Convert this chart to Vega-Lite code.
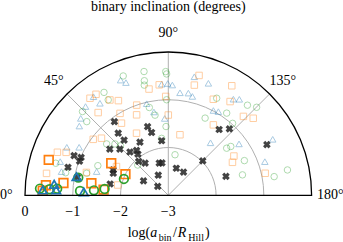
{
  "$schema": "https://vega.github.io/schema/vega-lite/v6.json",
  "width": 343,
  "height": 242,
  "autosize": "none",
  "padding": 0,
  "background": "white",
  "config": {"view": {"stroke": null}},
  "datasets": {
    "rings": [{"r": 1}, {"r": 2}, {"r": 3}],
    "spokes": [{"deg": 45}, {"deg": 90}, {"deg": 135}],
    "angles": [{"deg": 0, "lab": "0°"}, {"deg": 45, "lab": "45°"}, {"deg": 90, "lab": "90°"}, {"deg": 135, "lab": "135°"}, {"deg": 180, "lab": "180°"}],
    "ticks": [{"tick": 0, "lab": "0"}, {"tick": -1, "lab": "−1"}, {"tick": -2, "lab": "−2"}, {"tick": -3, "lab": "−3"}],
    "pts": [
      {"s": "blue", "hl": 0, "inc": 67.5, "la": -0.39},
      {"s": "blue", "hl": 0, "inc": 69.4, "la": -0.48},
      {"s": "blue", "hl": 0, "inc": 86.6, "la": -0.67},
      {"s": "blue", "hl": 0, "inc": 89.7, "la": -0.66},
      {"s": "blue", "hl": 0, "inc": 92.1, "la": -0.69},
      {"s": "blue", "hl": 0, "inc": 102.4, "la": -0.46},
      {"s": "blue", "hl": 0, "inc": 109.7, "la": -0.51},
      {"s": "blue", "hl": 0, "inc": 96.5, "la": -0.84},
      {"s": "blue", "hl": 0, "inc": 101.1, "la": -0.82},
      {"s": "blue", "hl": 0, "inc": 103.7, "la": -0.87},
      {"s": "blue", "hl": 0, "inc": 118.0, "la": -0.99},
      {"s": "blue", "hl": 0, "inc": 120.9, "la": -0.96},
      {"s": "blue", "hl": 0, "inc": 124.1, "la": -0.57},
      {"s": "blue", "hl": 0, "inc": 126.5, "la": -0.50},
      {"s": "blue", "hl": 0, "inc": 52.8, "la": -0.41},
      {"s": "blue", "hl": 0, "inc": 53.4, "la": -0.60},
      {"s": "blue", "hl": 0, "inc": 47.0, "la": -0.46},
      {"s": "blue", "hl": 0, "inc": 41.3, "la": -0.56},
      {"s": "blue", "hl": 0, "inc": 37.9, "la": -0.64},
      {"s": "blue", "hl": 0, "inc": 25.3, "la": -0.65},
      {"s": "blue", "hl": 0, "inc": 28.3, "la": -0.88},
      {"s": "blue", "hl": 0, "inc": 12.5, "la": -0.71},
      {"s": "blue", "hl": 0, "inc": 18.3, "la": -1.42},
      {"s": "blue", "hl": 0, "inc": 87.3, "la": -1.39},
      {"s": "blue", "hl": 0, "inc": 128.8, "la": -1.59},
      {"s": "blue", "hl": 0, "inc": 144.0, "la": -1.17},
      {"s": "blue", "hl": 0, "inc": 151.8, "la": -0.52},
      {"s": "blue", "hl": 0, "inc": 160.8, "la": -0.86},
      {"s": "blue", "hl": 0, "inc": 76.7, "la": -1.03},
      {"s": "blue", "hl": 0, "inc": 80.2, "la": -1.23},
      {"s": "blue", "hl": 0, "inc": 17.3, "la": -0.63},
      {"s": "green", "hl": 0, "inc": 78.9, "la": -0.36},
      {"s": "green", "hl": 0, "inc": 88.8, "la": -0.41},
      {"s": "green", "hl": 0, "inc": 69.3, "la": -0.33},
      {"s": "green", "hl": 0, "inc": 78.2, "la": -0.55},
      {"s": "green", "hl": 0, "inc": 77.7, "la": -0.64},
      {"s": "green", "hl": 0, "inc": 89.2, "la": -0.46},
      {"s": "green", "hl": 0, "inc": 58.0, "la": -0.46},
      {"s": "green", "hl": 0, "inc": 57.8, "la": -0.64},
      {"s": "green", "hl": 0, "inc": 44.3, "la": -0.49},
      {"s": "green", "hl": 0, "inc": 42.1, "la": -0.70},
      {"s": "green", "hl": 0, "inc": 77.8, "la": -1.12},
      {"s": "green", "hl": 0, "inc": 80.6, "la": -1.30},
      {"s": "green", "hl": 0, "inc": 88.1, "la": -1.56},
      {"s": "green", "hl": 0, "inc": 89.0, "la": -1.00},
      {"s": "green", "hl": 0, "inc": 115.5, "la": -1.21},
      {"s": "green", "hl": 0, "inc": 116.5, "la": -0.73},
      {"s": "green", "hl": 0, "inc": 125.4, "la": -0.89},
      {"s": "green", "hl": 0, "inc": 131.8, "la": -0.98},
      {"s": "green", "hl": 0, "inc": 131.3, "la": -0.49},
      {"s": "green", "hl": 0, "inc": 135.1, "la": -0.39},
      {"s": "green", "hl": 0, "inc": 141.1, "la": -1.43},
      {"s": "green", "hl": 0, "inc": 142.0, "la": -1.34},
      {"s": "green", "hl": 0, "inc": 155.5, "la": -1.25},
      {"s": "green", "hl": 0, "inc": 164.6, "la": -1.39},
      {"s": "green", "hl": 0, "inc": 170.0, "la": -0.75},
      {"s": "green", "hl": 0, "inc": 168.0, "la": -0.45},
      {"s": "green", "hl": 0, "inc": 39.8, "la": -1.32},
      {"s": "green", "hl": 0, "inc": 15.9, "la": -0.55},
      {"s": "green", "hl": 0, "inc": 22.8, "la": -1.40},
      {"s": "green", "hl": 0, "inc": 83.3, "la": -1.80},
      {"s": "green", "hl": 0, "inc": 99.4, "la": -2.14},
      {"s": "green", "hl": 0, "inc": 44.7, "la": -2.10},
      {"s": "green", "hl": 0, "inc": 43.9, "la": -1.45},
      {"s": "green", "hl": 0, "inc": 15.1, "la": -1.23},
      {"s": "green", "hl": 0, "inc": 12.4, "la": -0.80},
      {"s": "green", "hl": 0, "inc": 46.0, "la": -1.56},
      {"s": "orange", "hl": 0, "inc": 51.1, "la": -0.39},
      {"s": "orange", "hl": 0, "inc": 54.4, "la": -0.40},
      {"s": "orange", "hl": 0, "inc": 58.5, "la": -0.66},
      {"s": "orange", "hl": 0, "inc": 49.7, "la": -0.73},
      {"s": "orange", "hl": 0, "inc": 62.2, "la": -0.76},
      {"s": "orange", "hl": 0, "inc": 59.5, "la": -1.01},
      {"s": "orange", "hl": 0, "inc": 70.7, "la": -1.00},
      {"s": "orange", "hl": 0, "inc": 68.5, "la": -1.19},
      {"s": "orange", "hl": 0, "inc": 79.7, "la": -0.74},
      {"s": "orange", "hl": 0, "inc": 85.3, "la": -0.68},
      {"s": "orange", "hl": 0, "inc": 104.4, "la": -0.41},
      {"s": "orange", "hl": 0, "inc": 103.3, "la": -0.63},
      {"s": "orange", "hl": 0, "inc": 90.0, "la": -1.32},
      {"s": "orange", "hl": 0, "inc": 88.5, "la": -0.93},
      {"s": "orange", "hl": 0, "inc": 115.1, "la": -0.78},
      {"s": "orange", "hl": 0, "inc": 123.4, "la": -0.65},
      {"s": "orange", "hl": 0, "inc": 120.1, "la": -0.35},
      {"s": "orange", "hl": 0, "inc": 133.6, "la": -0.72},
      {"s": "orange", "hl": 0, "inc": 137.8, "la": -0.60},
      {"s": "orange", "hl": 0, "inc": 122.6, "la": -1.25},
      {"s": "orange", "hl": 0, "inc": 149.1, "la": -1.40},
      {"s": "orange", "hl": 0, "inc": 152.8, "la": -1.49},
      {"s": "orange", "hl": 0, "inc": 167.2, "la": -0.92},
      {"s": "orange", "hl": 0, "inc": 100.9, "la": -1.71},
      {"s": "orange", "hl": 0, "inc": 62.9, "la": -1.54},
      {"s": "orange", "hl": 0, "inc": 57.0, "la": -1.20},
      {"s": "orange", "hl": 0, "inc": 40.5, "la": -1.16},
      {"s": "orange", "hl": 0, "inc": 21.2, "la": -0.51},
      {"s": "orange", "hl": 0, "inc": 22.8, "la": -0.68},
      {"s": "orange", "hl": 0, "inc": 29.0, "la": -1.76},
      {"s": "orange", "hl": 0, "inc": 11.5, "la": -1.92},
      {"s": "orange", "hl": 0, "inc": 15.6, "la": -1.22},
      {"s": "orange", "hl": 0, "inc": 10.2, "la": -0.41},
      {"s": "orange", "hl": 0, "inc": 36.7, "la": -1.04},
      {"s": "x", "hl": 0, "inc": 53.8, "la": -1.09},
      {"s": "x", "hl": 0, "inc": 51.1, "la": -1.33},
      {"s": "x", "hl": 0, "inc": 51.3, "la": -1.52},
      {"s": "x", "hl": 0, "inc": 73.2, "la": -1.50},
      {"s": "x", "hl": 0, "inc": 75.1, "la": -1.64},
      {"s": "x", "hl": 0, "inc": 83.0, "la": -1.85},
      {"s": "x", "hl": 0, "inc": 61.9, "la": -1.74},
      {"s": "x", "hl": 0, "inc": 54.7, "la": -1.85},
      {"s": "x", "hl": 0, "inc": 48.5, "la": -1.79},
      {"s": "x", "hl": 0, "inc": 43.6, "la": -1.60},
      {"s": "x", "hl": 0, "inc": 38.3, "la": -1.44},
      {"s": "x", "hl": 0, "inc": 53.5, "la": -1.93},
      {"s": "x", "hl": 0, "inc": 48.9, "la": -2.06},
      {"s": "x", "hl": 0, "inc": 54.2, "la": -2.17},
      {"s": "x", "hl": 0, "inc": 74.3, "la": -2.30},
      {"s": "x", "hl": 0, "inc": 78.9, "la": -2.31},
      {"s": "x", "hl": 0, "inc": 63.4, "la": -2.53},
      {"s": "x", "hl": 0, "inc": 30.2, "la": -2.40},
      {"s": "x", "hl": 0, "inc": 40.2, "la": -2.71},
      {"s": "x", "hl": 0, "inc": 24.7, "la": -1.73},
      {"s": "x", "hl": 0, "inc": 21.8, "la": -1.76},
      {"s": "x", "hl": 0, "inc": 11.0, "la": -1.76},
      {"s": "x", "hl": 0, "inc": 106.5, "la": -2.41},
      {"s": "x", "hl": 0, "inc": 123.3, "la": -2.42},
      {"s": "x", "hl": 0, "inc": 135.0, "la": -1.98},
      {"s": "x", "hl": 0, "inc": 127.7, "la": -1.26},
      {"s": "x", "hl": 0, "inc": 132.6, "la": -1.11},
      {"s": "x", "hl": 0, "inc": 161.8, "la": -1.73},
      {"s": "x", "hl": 0, "inc": 152.8, "la": -0.68},
      {"s": "x", "hl": 0, "inc": 22.8, "la": -0.86},
      {"s": "x", "hl": 0, "inc": 23.5, "la": -1.01},
      {"s": "x", "hl": 0, "inc": 21.0, "la": -1.01},
      {"s": "x", "hl": 0, "inc": 15.6, "la": -0.82},
      {"s": "x", "hl": 0, "inc": 11.2, "la": -1.06},
      {"s": "orange", "hl": 1, "inc": 16.5, "la": -0.39},
      {"s": "orange", "hl": 1, "inc": 29.3, "la": -1.63},
      {"s": "orange", "hl": 1, "inc": 26.2, "la": -2.00},
      {"s": "orange", "hl": 1, "inc": 6.7, "la": -0.79},
      {"s": "orange", "hl": 1, "inc": 8.9, "la": -1.37},
      {"s": "orange", "hl": 1, "inc": 5.0, "la": -1.64},
      {"s": "orange", "hl": 1, "inc": 4.7, "la": -0.43},
      {"s": "orange", "hl": 1, "inc": 2.1, "la": -0.37},
      {"s": "green", "hl": 1, "inc": 3.0, "la": -0.31},
      {"s": "green", "hl": 1, "inc": 2.9, "la": -0.51},
      {"s": "green", "hl": 1, "inc": 3.4, "la": -0.67},
      {"s": "green", "hl": 1, "inc": 11.1, "la": -1.08},
      {"s": "green", "hl": 1, "inc": 2.8, "la": -1.15},
      {"s": "green", "hl": 1, "inc": 3.8, "la": -1.44},
      {"s": "green", "hl": 1, "inc": 5.7, "la": -1.66},
      {"s": "green", "hl": 1, "inc": 20.2, "la": -2.01},
      {"s": "blue", "hl": 1, "inc": 5.5, "la": -0.60},
      {"s": "blue", "hl": 1, "inc": 2.4, "la": -0.37},
      {"s": "blue", "hl": 1, "inc": 2.7, "la": -0.65},
      {"s": "blue", "hl": 1, "inc": 11.5, "la": -1.04},
      {"s": "blue", "hl": 1, "inc": 2.3, "la": -1.23}
    ]
  },
  "layer": [
    {
      "data": {"name": "rings"},
      "transform": [{"filter": "datum.r < 3"}, {"calculate": "0", "as": "cx"}],
      "mark": {"type": "point", "shape": "M-1,0A1,1,0,0,1,1,0", "filled": false, "color": "#b0b0b0", "opacity": 1, "strokeWidth": 1},
      "encoding": {
        "x": {"field": "cx", "type": "quantitative", "scale": {"domain": [-3.523, 3.657], "nice": false, "zero": false}, "axis": null},
        "y": {"field": "cx", "type": "quantitative", "scale": {"domain": [-0.978, 4.088], "nice": false, "zero": false}, "axis": null},
        "size": {"field": "r", "type": "quantitative", "scale": {"type": "pow", "exponent": 2, "domain": [0, 3], "range": [0, 82140]}, "legend": null}
      }
    },
    {
      "data": {"name": "spokes"},
      "transform": [
        {"calculate": "0", "as": "x0"},
        {"calculate": "-3 * cos(datum.deg * PI / 180)", "as": "xe"},
        {"calculate": "3 * sin(datum.deg * PI / 180)", "as": "ye"}
      ],
      "mark": {"type": "rule", "color": "#b0b0b0", "strokeWidth": 1},
      "encoding": {
        "x": {"field": "x0", "type": "quantitative", "scale": {"domain": [-3.523, 3.657], "nice": false, "zero": false}, "axis": null},
        "y": {"field": "x0", "type": "quantitative", "scale": {"domain": [-0.978, 4.088], "nice": false, "zero": false}, "axis": null},
        "x2": {"field": "xe"},
        "y2": {"field": "ye"}
      }
    },
    {
      "data": {"name": "pts"},
      "transform": [
        {"filter": "datum.hl == 0 && datum.s != 'x'"},
        {"calculate": "-(datum.la + 3) * cos(datum.inc * PI / 180)", "as": "px"},
        {"calculate": "(datum.la + 3) * sin(datum.inc * PI / 180)", "as": "py"}
      ],
      "mark": {"type": "point", "filled": false, "opacity": 0.38, "strokeWidth": 1, "size": 42},
      "encoding": {
        "x": {"field": "px", "type": "quantitative", "scale": {"domain": [-3.523, 3.657], "nice": false, "zero": false}, "axis": null},
        "y": {"field": "py", "type": "quantitative", "scale": {"domain": [-0.978, 4.088], "nice": false, "zero": false}, "axis": null},
        "color": {"field": "s", "type": "nominal", "scale": {"domain": ["orange", "green", "blue"], "range": ["#ff7f0e", "#2ca02c", "#1f77b4"]}, "legend": null},
        "shape": {"field": "s", "type": "nominal", "scale": {"domain": ["orange", "green", "blue"], "range": ["square", "circle", "triangle-up"]}, "legend": null}
      }
    },
    {
      "data": {"name": "pts"},
      "transform": [
        {"filter": "datum.s == 'x'"},
        {"calculate": "-(datum.la + 3) * cos(datum.inc * PI / 180)", "as": "px"},
        {"calculate": "(datum.la + 3) * sin(datum.inc * PI / 180)", "as": "py"}
      ],
      "mark": {"type": "point", "shape": "cross", "angle": 45, "filled": true, "color": "#222222", "opacity": 0.85, "size": 60},
      "encoding": {
        "x": {"field": "px", "type": "quantitative", "scale": {"domain": [-3.523, 3.657], "nice": false, "zero": false}, "axis": null},
        "y": {"field": "py", "type": "quantitative", "scale": {"domain": [-0.978, 4.088], "nice": false, "zero": false}, "axis": null}
      }
    },
    {
      "data": {"name": "pts"},
      "transform": [
        {"filter": "datum.hl == 1"},
        {"calculate": "-(datum.la + 3) * cos(datum.inc * PI / 180)", "as": "px"},
        {"calculate": "(datum.la + 3) * sin(datum.inc * PI / 180)", "as": "py"}
      ],
      "mark": {"type": "point", "filled": false, "opacity": 1, "strokeWidth": 1.7, "size": 75},
      "encoding": {
        "x": {"field": "px", "type": "quantitative", "scale": {"domain": [-3.523, 3.657], "nice": false, "zero": false}, "axis": null},
        "y": {"field": "py", "type": "quantitative", "scale": {"domain": [-0.978, 4.088], "nice": false, "zero": false}, "axis": null},
        "color": {"field": "s", "type": "nominal", "scale": {"domain": ["orange", "green", "blue"], "range": ["#ff7f0e", "#2ca02c", "#1f77b4"]}, "legend": null},
        "shape": {"field": "s", "type": "nominal", "scale": {"domain": ["orange", "green", "blue"], "range": ["square", "circle", "triangle-up"]}, "legend": null}
      }
    },
    {
      "data": {"name": "rings"},
      "transform": [{"filter": "datum.r == 3"}, {"calculate": "0", "as": "cx"}],
      "mark": {"type": "point", "shape": "M-1,0A1,1,0,0,1,1,0Z", "filled": false, "color": "black", "opacity": 1, "strokeWidth": 1.3},
      "encoding": {
        "x": {"field": "cx", "type": "quantitative", "scale": {"domain": [-3.523, 3.657], "nice": false, "zero": false}, "axis": null},
        "y": {"field": "cx", "type": "quantitative", "scale": {"domain": [-0.978, 4.088], "nice": false, "zero": false}, "axis": null},
        "size": {"field": "r", "type": "quantitative", "scale": {"type": "pow", "exponent": 2, "domain": [0, 3], "range": [0, 82140]}, "legend": null}
      }
    },
    {
      "data": {"name": "angles"},
      "transform": [
        {"calculate": "-3.39 * cos(datum.deg * PI / 180)", "as": "lx"},
        {"calculate": "3.39 * sin(datum.deg * PI / 180)", "as": "ly"}
      ],
      "mark": {"type": "text", "align": "center", "baseline": "middle", "font": "Liberation Serif", "fontSize": 14, "color": "black"},
      "encoding": {
        "x": {"field": "lx", "type": "quantitative", "scale": {"domain": [-3.523, 3.657], "nice": false, "zero": false}, "axis": null},
        "y": {"field": "ly", "type": "quantitative", "scale": {"domain": [-0.978, 4.088], "nice": false, "zero": false}, "axis": null},
        "text": {"field": "lab"}
      }
    },
    {
      "data": {"name": "ticks"},
      "transform": [{"calculate": "-(datum.tick + 3)", "as": "tx"}, {"calculate": "-0.343", "as": "ty"}],
      "mark": {"type": "text", "align": "center", "baseline": "middle", "font": "Liberation Serif", "fontSize": 14, "color": "black"},
      "encoding": {
        "x": {"field": "tx", "type": "quantitative", "scale": {"domain": [-3.523, 3.657], "nice": false, "zero": false}, "axis": null},
        "y": {"field": "ty", "type": "quantitative", "scale": {"domain": [-0.978, 4.088], "nice": false, "zero": false}, "axis": null},
        "text": {"field": "lab"}
      }
    },
    {
      "data": {"values": [{"t": "binary inclination (degrees)"}]},
      "transform": [{"calculate": "0", "as": "tx"}, {"calculate": "3.86", "as": "ty"}],
      "mark": {"type": "text", "align": "center", "baseline": "alphabetic", "font": "Liberation Serif", "fontSize": 14, "color": "black"},
      "encoding": {
        "x": {"field": "tx", "type": "quantitative", "scale": {"domain": [-3.523, 3.657], "nice": false, "zero": false}, "axis": null},
        "y": {"field": "ty", "type": "quantitative", "scale": {"domain": [-0.978, 4.088], "nice": false, "zero": false}, "axis": null},
        "text": {"field": "t"}
      }
    },
    {
      "data": {"values": [
        {"t": "log(", "k": "main"},
        {"t": "/", "k": "main2"},
        {"t": ")", "k": "main3"}
      ]},
      "transform": [
        {"calculate": "{'main': -0.85, 'main2': 0.1, 'main3': 0.77}[datum.k]", "as": "tx"},
        {"calculate": "-0.879", "as": "ty"}
      ],
      "mark": {"type": "text", "align": "left", "baseline": "alphabetic", "font": "Liberation Serif", "fontSize": 14, "color": "black"},
      "encoding": {
        "x": {"field": "tx", "type": "quantitative", "scale": {"domain": [-3.523, 3.657], "nice": false, "zero": false}, "axis": null},
        "y": {"field": "ty", "type": "quantitative", "scale": {"domain": [-0.978, 4.088], "nice": false, "zero": false}, "axis": null},
        "text": {"field": "t"}
      }
    },
    {
      "data": {"values": [
        {"t": "a", "k": "it"},
        {"t": "R", "k": "it2"}
      ]},
      "transform": [
        {"calculate": "{'it': -0.38, 'it2': 0.2}[datum.k]", "as": "tx"},
        {"calculate": "-0.879", "as": "ty"}
      ],
      "mark": {"type": "text", "align": "left", "baseline": "alphabetic", "font": "Liberation Serif", "fontStyle": "italic", "fontSize": 14, "color": "black"},
      "encoding": {
        "x": {"field": "tx", "type": "quantitative", "scale": {"domain": [-3.523, 3.657], "nice": false, "zero": false}, "axis": null},
        "y": {"field": "ty", "type": "quantitative", "scale": {"domain": [-0.978, 4.088], "nice": false, "zero": false}, "axis": null},
        "text": {"field": "t"}
      }
    },
    {
      "data": {"values": [
        {"t": "bin", "k": "sub"},
        {"t": "Hill", "k": "sub2"}
      ]},
      "transform": [
        {"calculate": "{'sub': -0.2, 'sub2': 0.42}[datum.k]", "as": "tx"},
        {"calculate": "-0.95", "as": "ty"}
      ],
      "mark": {"type": "text", "align": "left", "baseline": "alphabetic", "font": "Liberation Serif", "fontSize": 10, "color": "black"},
      "encoding": {
        "x": {"field": "tx", "type": "quantitative", "scale": {"domain": [-3.523, 3.657], "nice": false, "zero": false}, "axis": null},
        "y": {"field": "ty", "type": "quantitative", "scale": {"domain": [-0.978, 4.088], "nice": false, "zero": false}, "axis": null},
        "text": {"field": "t"}
      }
    }
  ]
}
